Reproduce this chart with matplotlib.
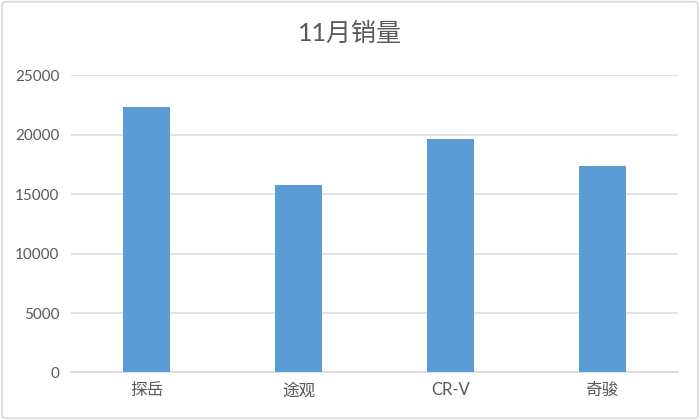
import matplotlib
matplotlib.use("Agg")
import matplotlib.pyplot as plt
from matplotlib.patches import FancyBboxPatch

plt.rcParams['font.family'] = ['Lato', 'Noto Sans CJK SC', 'DejaVu Sans']

title = "11月销量"
categories = ["探岳", "途观", "CR-V", "奇骏"]
sales = [22300, 15750, 19600, 17330]
yticks = [0, 5000, 10000, 15000, 20000, 25000]

bar_color = "#5B9BD5"
grid_color = "#D9D9D9"
text_color = "#595959"

fig = plt.figure(figsize=(7, 4.2), dpi=100)
fig.patch.set_facecolor("white")

# outer light border like Excel chart area
border = FancyBboxPatch((0.003, 0.004), 0.994, 0.992, boxstyle="round,pad=0,rounding_size=0.006",
                        transform=fig.transFigure, fill=False, edgecolor="#D9D9D9", linewidth=1.2)
fig.patches.append(border)

ax = fig.add_axes([0.1014, 0.1131, 0.8672, 0.7083])
x = range(len(categories))
ax.bar(x, sales, width=0.31, color=bar_color, zorder=3)

ax.set_xlim(-0.5, len(categories) - 0.5)
ax.set_ylim(0, 25000)
ax.set_yticks(yticks)
ax.set_yticklabels([str(v) for v in yticks])
ax.set_xticks(list(x))
ax.set_xticklabels(categories)

ax.grid(axis="y", color=grid_color, linewidth=1.1, zorder=0)
for s in ["top", "right", "left"]:
    ax.spines[s].set_visible(False)
ax.spines["bottom"].set_color(grid_color)
ax.spines["bottom"].set_linewidth(1.1)

ax.tick_params(axis="y", length=0, pad=8.5, labelsize=11, labelcolor=text_color)
ax.tick_params(axis="x", length=0, pad=7, labelsize=12, labelcolor=text_color)

fig.text(0.5, 0.921, title, ha="center", va="center", fontsize=18, color=text_color)

fig.savefig("out.png", dpi=100, facecolor="white")
